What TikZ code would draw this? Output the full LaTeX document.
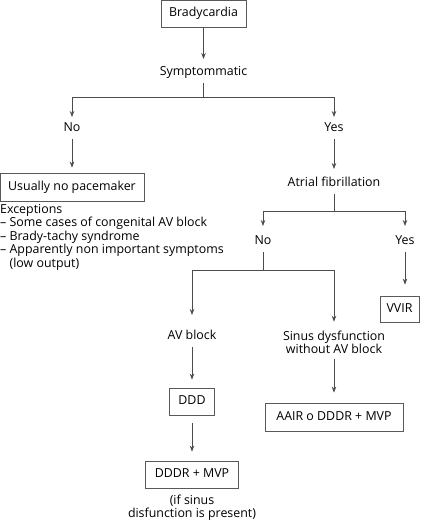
\documentclass[tikz,border=0pt]{standalone}
\usepackage{fontspec}
\setmainfont{Open Sans}
\usetikzlibrary{arrows.meta}
\begin{document}
\begin{tikzpicture}[x=1pt,y=-1pt,
  font=\fontsize{12.4}{13.5}\selectfont,
  box/.style={draw=black!65, line width=0.8pt, inner sep=0, align=center, text height=8.5pt, text depth=2.5pt},
  lbl/.style={inner sep=0, align=center, text height=8.5pt, text depth=2.5pt, outer ysep=5.5pt},
  ln/.style={draw=black!70, line width=0.7pt},
  arr/.style={ln, -{Stealth[length=6pt,width=4.5pt]}}
]
\useasboundingbox (0,0) rectangle (428,522);
\node[box, minimum width=85pt, minimum height=27pt] (brady) at (203.5,13.5) {Bradycardia};
\node[lbl] (symp) at (203.5,72) {Symptommatic};
\node[lbl] (no) at (72,128) {No};
\node[lbl] (yes) at (334,128) {Yes};
\node[box, minimum width=144pt, minimum height=28pt] (usual) at (72,187) {Usually no pacemaker};
\node[lbl, anchor=north west, align=left, text height=, text depth=, outer ysep=0pt, font=\fontsize{12.4}{13.6}\selectfont] (exc) at (0,204) {Exceptions\\
-- Some cases of congenital AV block\\
-- Brady-tachy syndrome\\
-- Apparently non important symptoms\\
\phantom{-- }(low output)};
\node[lbl] (atrial) at (334,183) {Atrial fibrillation};
\node[lbl] (no2) at (263,241) {No};
\node[lbl] (yes2) at (405,241) {Yes};
\node[box, minimum width=39pt, minimum height=26pt] (vvir) at (399.5,309) {VVIR};
\node[lbl] (avb) at (192,336) {AV block};
\node[lbl, text height=, text depth=, font=\fontsize{12.4}{13}\selectfont] (sinus) at (334,342.5) {Sinus dysfunction\\without AV block};
\node[box, minimum width=45pt, minimum height=27pt] (ddd) at (192,401.5) {DDD};
\node[box, minimum width=93pt, minimum height=27pt] (dddr) at (192,474.5) {DDDR + MVP};
\node[lbl, text height=, text depth=, font=\fontsize{12.4}{13}\selectfont] (note) at (192,507.5) {(if sinus\\disfunction is present)};
\node[box, minimum width=138pt, minimum height=28pt] (aair) at (334,417) {AAIR o DDDR + MVP};

\coordinate (j1) at (203.5,97);
\coordinate (j2) at (334,211);
\coordinate (j3) at (263,270);

\draw[arr, shorten >=2pt] (brady) -- (symp);
\draw[ln] (symp) -- (j1);
\draw[arr] (j1) -| (no);
\draw[arr] (j1) -| (yes);
\draw[arr, shorten >=5pt] (no) -- (no |- usual.north);
\draw[arr, shorten >=3pt] (yes) -- (atrial);
\draw[ln] (atrial) -- (j2);
\draw[arr, shorten >=4pt] (j2) -| (no2);
\draw[arr, shorten >=4pt] (j2) -| (yes2);
\draw[ln] (no2) -- (j3);
\draw[arr, shorten >=10pt] (j3) -| (avb);
\draw[arr, shorten >=4pt] (j3) -| (sinus);
\draw[arr, shorten >=11pt] (yes2) -- (yes2 |- vvir.north);
\draw[arr, shorten >=8pt] (avb) -- (avb |- ddd.north);
\draw[arr, shorten >=9pt, shorten <=8pt] (ddd) -- (dddr);
\draw[arr, shorten >=10pt] (sinus) -- (aair);
\end{tikzpicture}
\end{document}
